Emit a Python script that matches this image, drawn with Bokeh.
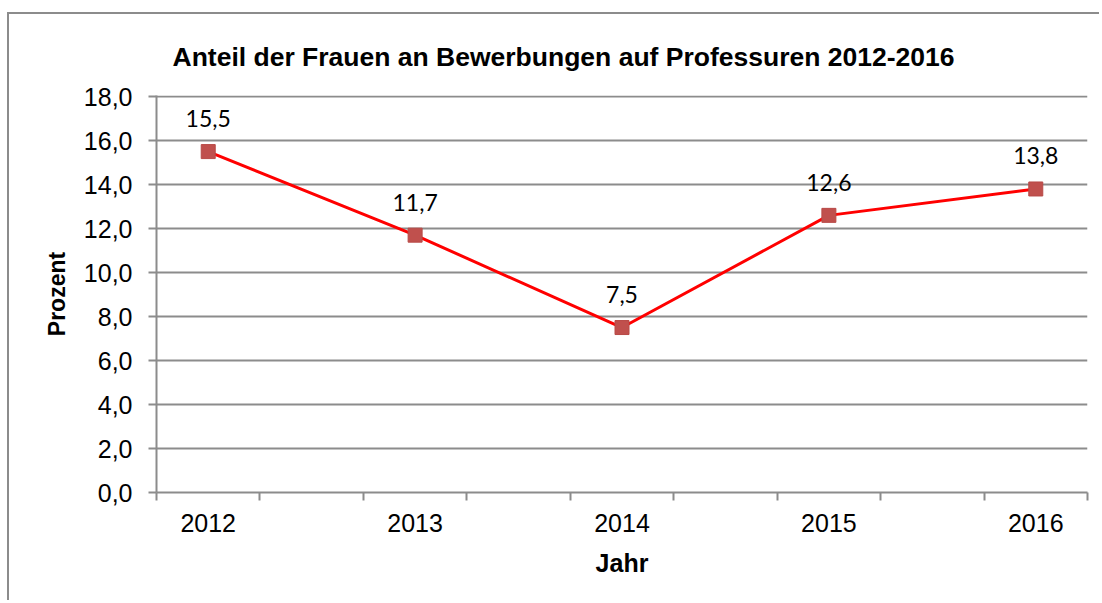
from bokeh.plotting import figure
from bokeh.models import Range1d, FixedTicker, CustomJSTickFormatter, ColumnDataSource, Title
from bokeh.core.properties import value
from bokeh.embed import file_html
from bokeh.resources import INLINE

# ---- data ----
years = ["2012", "2013", "2014", "2015", "2016"]
shares = [15.5, 11.7, 7.5, 12.6, 13.8]
y_ticks = [0, 2, 4, 6, 8, 10, 12, 14, 16, 18]
title_text = "Anteil der Frauen an Bewerbungen auf Professuren 2012-2016"
x_title = "Jahr"
y_title = "Prozent"

GRAY = "#8c8c8c"
idx = list(range(len(years)))
labels = [f"{v:.1f}".replace(".", ",") for v in shares]
src = ColumnDataSource(dict(x=idx, y=shares, lab=labels))

W, H = 1092, 588
TOP, LEFT, BOTTOM_Y, RIGHT_X = 81, 147, 478, 1078
p = figure(width=W, height=H, output_backend="svg", toolbar_location=None,
           x_range=Range1d(-0.25, len(years) - 0.75), y_range=Range1d(0, 18.05),
           min_border_left=LEFT, min_border_right=W - RIGHT_X, min_border_top=TOP,
           min_border_bottom=H - BOTTOM_Y)
p.styles = {"position": "absolute", "top": "12px", "left": "7px",
            "border-top": f"2px solid {GRAY}", "border-left": f"2px solid {GRAY}"}
p.outline_line_color = None
p.background_fill_color = "white"
p.border_fill_color = "white"

t = Title(text=title_text, text_font="Liberation Sans", text_font_size="26.5px",
          text_font_style="bold", text_color="black", align="left", offset=16,
          standoff=48)
p.add_layout(t, "above")

# x axis
minor = [i - 0.25 for i in idx] + [i + 0.25 for i in idx]
p.xaxis.ticker = FixedTicker(ticks=idx, minor_ticks=sorted(set(minor)))
p.xaxis.major_label_overrides = {i: y for i, y in zip(idx, years)}
p.xaxis.major_tick_line_color = None
p.xaxis.minor_tick_line_color = GRAY
p.xaxis.minor_tick_line_width = 2
p.xaxis.minor_tick_out = 8
p.xaxis.minor_tick_in = 0
p.xaxis.major_tick_out = 8
p.xaxis.major_tick_in = 0
p.xaxis.axis_line_color = GRAY
p.xaxis.axis_line_width = 2
p.xaxis.major_label_text_font = "Liberation Sans"
p.xaxis.major_label_text_font_size = "25px"
p.xaxis.major_label_text_color = "black"
p.xaxis.major_label_standoff = 13
p.xaxis.axis_label = x_title
p.xaxis.axis_label_text_font = "Liberation Sans"
p.xaxis.axis_label_text_font_size = "25px"
p.xaxis.axis_label_text_font_style = "bold"
p.xaxis.axis_label_text_color = "black"
p.xaxis.axis_label_standoff = 14

# y axis
p.yaxis.ticker = FixedTicker(ticks=y_ticks, minor_ticks=[])
p.yaxis.formatter = CustomJSTickFormatter(code="return tick.toFixed(1).replace('.', ',');")
p.yaxis.major_tick_line_color = GRAY
p.yaxis.major_tick_line_width = 2
p.yaxis.major_tick_out = 8
p.yaxis.major_tick_in = 0
p.yaxis.minor_tick_line_color = None
p.yaxis.axis_line_color = GRAY
p.yaxis.axis_line_width = 2
p.yaxis.major_label_text_font = "Liberation Sans"
p.yaxis.major_label_text_font_size = "25px"
p.yaxis.major_label_text_color = "black"
p.yaxis.major_label_standoff = 16
p.yaxis.axis_label = y_title
p.yaxis.axis_label_text_font = "Liberation Sans"
p.yaxis.axis_label_text_font_size = "23px"
p.yaxis.axis_label_text_font_style = "bold"
p.yaxis.axis_label_text_color = "black"
p.yaxis.axis_label_standoff = 11

p.xgrid.grid_line_color = None
p.ygrid.ticker = FixedTicker(ticks=y_ticks, minor_ticks=[])
p.ygrid.grid_line_color = GRAY
p.ygrid.grid_line_width = 2

p.line("x", "y", source=src, line_color="#ff0000", line_width=3)
p.scatter("x", "y", source=src, marker="square", size=14,
          fill_color="#c0504d", line_color="#b84a47", line_width=1)
p.text("x", "y", text="lab", source=src, text_align="center", text_baseline="middle",
       y_offset=-33, text_font=value("Lato"), text_font_size="23px", text_color="black")

open("out.html", "w").write(file_html(p, INLINE))
